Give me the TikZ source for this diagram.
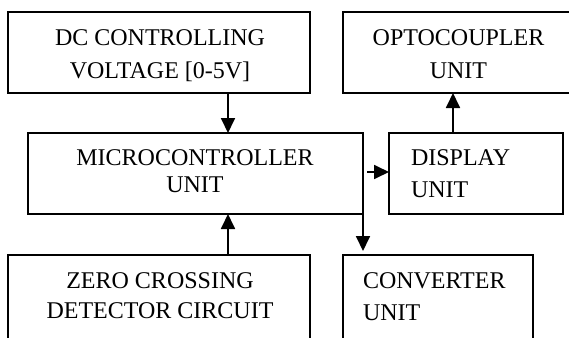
\documentclass[tikz,border=0pt]{standalone}
\usepackage{fontspec}
\setmainfont{Liberation Serif}
\usetikzlibrary{arrows.meta}
\begin{document}
\begin{tikzpicture}[x=0.5pt,y=-0.5pt,
  box/.style={draw=black,line width=0.7pt,rectangle,inner sep=0pt,outer sep=0pt,minimum height=40.5pt},
  lbl/.style={inner sep=0pt,outer sep=0pt,font=\fontsize{12pt}{14pt}\selectfont},
  arr/.style={line width=0.9pt,-{Triangle[length=7.5pt,width=7pt]}}]
\useasboundingbox (0,0) rectangle (569,338);
\clip (0,0) rectangle (569,338);
\fill[white] (0,0) rectangle (569,338);
% boxes
\node[box,minimum width=151pt] (dc) at (159,52.5) {};
\node[box,minimum width=116pt] (opto) at (459,52.5) {};
\node[box,minimum width=167.5pt] (mcu) at (195.5,173.5) {};
\node[box,minimum width=87pt] (disp) at (476,173.5) {};
\node[box,minimum width=151pt,minimum height=47.5pt] (zcd) at (159,302.5) {};
\node[box,minimum width=95pt,minimum height=47.5pt] (conv) at (438,302.5) {};
% labels
\node[lbl,anchor=base] (dct1) at (160,45) {DC CONTROLLING};
\node[lbl,anchor=base] (dct2) at (160,78) {VOLTAGE [0-5V]};
\node[lbl,anchor=base] (opt1) at (458.5,45) {OPTOCOUPLER};
\node[lbl,anchor=base] (opt2) at (458.5,78) {UNIT};
\node[lbl,anchor=base] (mct1) at (195,165) {MICROCONTROLLER};
\node[lbl,anchor=base] (mct2) at (195,192) {UNIT};
\node[lbl,anchor=base west] (dst1) at (411,165) {DISPLAY};
\node[lbl,anchor=base west] (dst2) at (411,197) {UNIT};
\node[lbl,anchor=base] (zct1) at (160,288) {ZERO CROSSING};
\node[lbl,anchor=base] (zct2) at (160,318) {DETECTOR CIRCUIT};
\node[lbl,anchor=base west] (cvt1) at (363,288) {CONVERTER};
\node[lbl,anchor=base west] (cvt2) at (363,320) {UNIT};
% connectors
\coordinate (dcout) at (228,93);
\coordinate (mcuin) at (228,133);
\draw[arr] (dcout) -- (mcuin);
\coordinate (zcdout) at (228,255);
\coordinate (mcuin2) at (228,214);
\draw[arr] (zcdout) -- (mcuin2);
\coordinate (dispa) at (367,172);
\draw[arr] (dispa) -- (dispa -| disp.west);
\coordinate (dispout) at (453,133);
\draw[arr] (dispout) -- (dispout |- opto.south);
\coordinate (convin) at (363,251);
\draw[arr] (mcu.south east) -- (convin);
\end{tikzpicture}
\end{document}
